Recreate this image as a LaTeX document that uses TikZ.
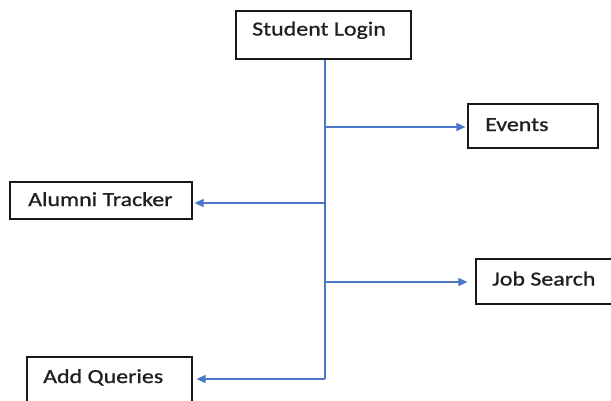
\documentclass[tikz,border=0pt]{standalone}
\usepackage{fontspec}
\setmainfont{Carlito}[FakeStretch=1.2,FakeBold=1]
\usetikzlibrary{arrows.meta}
\definecolor{linkblue}{HTML}{4A76C8}
\definecolor{txt}{HTML}{202020}
\begin{document}
\begin{tikzpicture}[x=1bp,y=-1bp,
  box/.style={draw=black!90, line width=1.2bp, inner sep=0pt},
  lbl/.style={font=\fontsize{20}{24}\selectfont, text=txt, inner sep=0pt, anchor=base west},
  trunk/.style={draw=linkblue, line width=1.4bp},
  link/.style={draw=linkblue, line width=1.4bp, -{Triangle[length=9bp,width=8bp]}, shorten >=2bp}]
\useasboundingbox (0,0) rectangle (611,400);
% boxes
\node[box, minimum width=175bp, minimum height=48bp] (login) at (323.5,35) {};
\node[box, minimum width=130bp, minimum height=44bp] (events) at (533,126) {};
\node[box, minimum width=182bp, minimum height=37bp] (alumni) at (101,200.5) {};
\node[box, minimum width=142bp, minimum height=45bp] (job) at (547,281.5) {};
\node[box, minimum width=165bp, minimum height=48bp] (add) at (109.5,381) {};
% labels
\node[lbl] (loginT) at (252,35.5) {Student Login};
\node[lbl] (eventsT) at (485,131) {Events};
\node[lbl] (alumniT) at (28,206) {Alumni Tracker};
\node[lbl] (jobT) at (492,285.5) {Job Search};
\node[lbl] (addT) at (43,383) {Add Queries};
% trunk and branches
\coordinate (b1) at (325,127);
\coordinate (b2) at (325,203);
\coordinate (b3) at (325,282);
\coordinate (b4) at (325,379);
\draw[trunk] (login.south -| b1) -- (b4);
\draw[link] (b1) -- (b1 -| events.west);
\draw[link] (b2) -- (b2 -| alumni.east);
\draw[link, shorten >=8bp] (b3) -- (b3 -| job.west);
\draw[link, shorten >=4bp] (b4) -- (b4 -| add.east);
\end{tikzpicture}
\end{document}
